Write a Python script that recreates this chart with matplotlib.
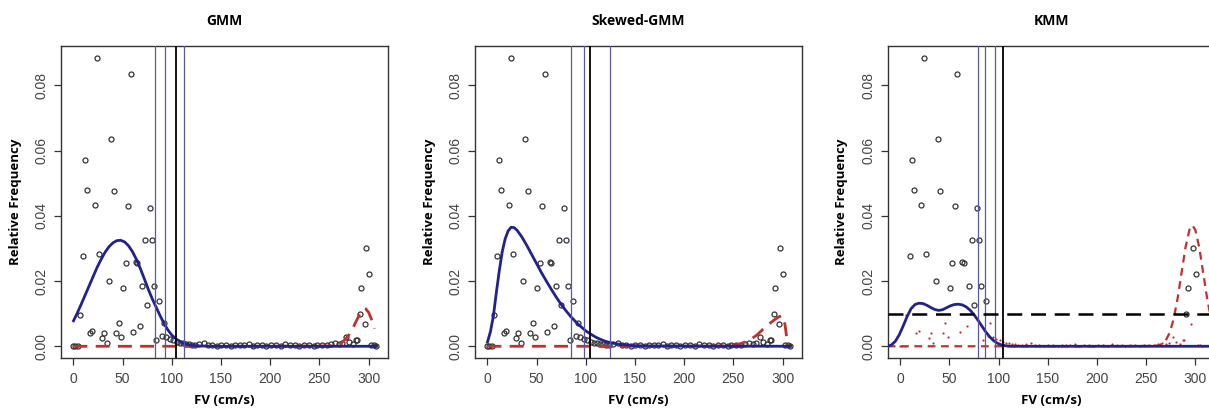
import matplotlib
matplotlib.use('Agg')
import matplotlib.pyplot as plt

# Empirical relative frequencies (shared by all three panels)
fv = [0, 2, 4.4, 6.4, 9.5, 11.9, 14.2, 16.3, 18.9, 21.4, 24.1, 26.4, 28.8, 31.2, 33.6,
      35.9, 38.6, 40.7, 43.4, 45.8, 48.5, 50.5, 52.9, 55.3, 58, 60.3, 63.1, 64.4, 68.1,
      69.8, 72.5, 74.9, 77.6, 79.7, 82, 84, 86.8, 89.5, 91.5, 94, 97.6, 101,
      105, 108, 111, 114, 117, 120, 124, 128, 133, 137, 141, 146, 150, 155, 160, 164,
      169, 173, 178, 182, 187, 192, 196, 201, 206, 211, 215, 220, 225, 229, 234, 239,
      244, 248, 253, 258, 262, 266, 270, 273, 277.4, 280, 284, 287, 288.5, 291, 292.6,
      296, 297.8, 300.4, 302.5, 305, 307]
rel_freq = [0.0, 0.0001, 0.0002, 0.0095, 0.0276, 0.0570, 0.0479, 0.0042, 0.0046, 0.0432,
            0.0885, 0.0283, 0.0026, 0.0041, 0.0011, 0.0199, 0.0635, 0.0476, 0.0040, 0.0071,
            0.0027, 0.0180, 0.0254, 0.0429, 0.0836, 0.0043, 0.0257, 0.0255, 0.0063, 0.0185,
            0.0327, 0.0127, 0.0424, 0.0326, 0.0184, 0.0019, 0.0138, 0.0032, 0.0070, 0.0027,
            0.0021, 0.0018,
            0.0012, 0.0009, 0.0011, 0.0006, 0.0008, 0.0005, 0.0004, 0.0006, 0.0009, 0.0003,
            0.0005, 0.0002, 0.0004, 0.0003, 0.0002, 0.0005, 0.0003, 0.0004, 0.0006, 0.0002,
            0.0004, 0.0003, 0.0002, 0.0003, 0.0004, 0.0002, 0.0006, 0.0003, 0.0005, 0.0002,
            0.0003, 0.0004, 0.0002, 0.0003, 0.0005, 0.0004, 0.0007, 0.0009, 0.0008, 0.0011,
            0.0029, 0.0012, 0.0006, 0.0018, 0.0018, 0.0100, 0.0180, 0.0068, 0.0300, 0.0223,
            0.0005, 0.0003, 0.0001]

# GMM fitted densities
gmm_bx = [0, 4, 8, 12, 16, 20, 24, 28, 32, 36, 40, 44, 48, 52, 56, 60, 64, 68, 72, 76,
          80, 84, 88, 92, 96, 100, 105, 110, 115, 120, 128, 140, 308]
gmm_by = [0.0078, 0.0103, 0.0130, 0.0158, 0.0186, 0.0214, 0.0242, 0.0266, 0.0288, 0.0305,
          0.0317, 0.0324, 0.0325, 0.0320, 0.0308, 0.0290, 0.0266, 0.0238, 0.0207, 0.0175,
          0.0146, 0.0120, 0.0094, 0.0070, 0.0050, 0.0034, 0.0021, 0.0012, 0.0006, 0.0003,
          0.0001, 0.0, 0.0]
gmm_rx = [0, 100, 200, 260, 265, 270, 275, 280, 285, 290, 293, 295, 297, 300, 303, 306]
gmm_ry = [0.0, 0.0, 0.0, 0.0001, 0.0002, 0.0006, 0.0017, 0.0035, 0.0062, 0.0093, 0.0109,
          0.0116, 0.0115, 0.0104, 0.0082, 0.0054]
gmm_vblue = [83, 93.2, 112.5]

# Skewed-GMM fitted densities
sk_bx = [0, 3, 6, 9, 12, 15, 18, 21, 24, 27, 30, 35, 40, 45, 50, 55, 60, 65, 70, 75, 80,
         85, 90, 95, 100, 105, 110, 115, 120, 125, 130, 140, 150, 160, 308]
sk_by = [0.0013, 0.0045, 0.0093, 0.0165, 0.0232, 0.0290, 0.0330, 0.0354, 0.0365, 0.0364,
         0.0356, 0.0335, 0.0309, 0.0281, 0.0253, 0.0225, 0.0199, 0.0174, 0.0150, 0.0128,
         0.0108, 0.0090, 0.0074, 0.0060, 0.0047, 0.0037, 0.0028, 0.0021, 0.0015, 0.0011,
         0.0008, 0.0004, 0.0002, 0.0001, 0.0]
sk_rx = [0, 100, 200, 240, 250, 256, 262, 268, 274, 280, 286, 292, 296, 299, 301, 302.5,
         304, 305.5]
sk_ry = [0.0, 0.0, 0.0, 0.0001, 0.0003, 0.0007, 0.0013, 0.0022, 0.0035, 0.0052, 0.0068,
         0.0082, 0.0090, 0.0094, 0.0088, 0.0064, 0.0030, 0.0003]
sk_vblue = [84.4, 97.9, 125]

# KMM fitted densities
km_bx = [-12.7, -9, -5, -1, 3, 7, 11, 15, 19, 23, 27, 31, 35, 39, 43, 47, 51, 55, 59, 63,
         67, 71, 75, 79, 83, 87, 91, 95, 99, 103, 108, 115, 322]
km_by = [0.0, 0.0004, 0.0015, 0.0035, 0.0062, 0.0091, 0.0115, 0.0128, 0.0132, 0.0131,
         0.0126, 0.0119, 0.0113, 0.0110, 0.0112, 0.0118, 0.0124, 0.0128, 0.0129, 0.0127,
         0.0121, 0.0111, 0.0097, 0.0080, 0.0062, 0.0044, 0.0029, 0.0017, 0.0009, 0.0004,
         0.0001, 0.0, 0.0]
km_rx = [-12.7, 100, 200, 258, 262, 266, 270, 274, 278, 282, 286, 290, 294, 297, 300, 304,
         308, 312, 316, 320]
km_ry = [0.0, 0.0, 0.0, 0.0001, 0.0002, 0.0007, 0.0018, 0.0042, 0.0084, 0.0147, 0.0225,
         0.0303, 0.0357, 0.0371, 0.0357, 0.0303, 0.0225, 0.0147, 0.0084, 0.0042]
km_vblue = [79, 85.8, 95.9]
km_threshold = 0.0098
km_hline = 0.01

threshold_fv = 104

panels = [
    ('GMM', gmm_bx, gmm_by, gmm_rx, gmm_ry, gmm_vblue),
    ('Skewed-GMM', sk_bx, sk_by, sk_rx, sk_ry, sk_vblue),
    ('KMM', km_bx, km_by, km_rx, km_ry, km_vblue),
]

NAVY = '#22228c'
VBLUE = '#5858a8'
RED = '#c3302c'
LABEL_FONT = ['Open Sans', 'DejaVu Sans']
TICK_FONT = ['Liberation Sans', 'DejaVu Sans']

fig = plt.figure(figsize=(12.09, 4.08), dpi=100)
fig.patch.set_facecolor('white')

lefts = [61 / 1209, 475 / 1209, 887.7 / 1209]
width = 327 / 1209
bottom = 1 - 358 / 408
height = 312 / 408

for i, (title, bx, by, rx, ry, vblue) in enumerate(panels):
    ax = fig.add_axes([lefts[i], bottom, width, height])
    ax.set_xlim(-12.7, 319.7)
    ax.set_ylim(-0.0036, 0.0921)

    if title == 'KMM':
        hi_x = [x for x, y in zip(fv, rel_freq) if y >= km_threshold]
        hi_y = [y for y in rel_freq if y >= km_threshold]
        lo_x = [x for x, y in zip(fv, rel_freq) if y < km_threshold]
        lo_y = [y for y in rel_freq if y < km_threshold]
        ax.plot(hi_x, hi_y, 'o', mfc='none', mec='#333333', ms=3.6, mew=0.9, zorder=2)
        ax.plot(lo_x, lo_y, 'o', color=RED, ms=1.6, mew=0, zorder=2)
        ax.axhline(km_hline, color='black', lw=1.8, dashes=(6, 3.5), zorder=4)
        ax.plot(rx, ry, color=RED, lw=1.6, dashes=(3.5, 2.5), zorder=3)
    else:
        ax.plot(fv, rel_freq, 'o', mfc='none', mec='#333333', ms=3.6, mew=0.9, zorder=2)
        ax.plot(rx, ry, color=RED, lw=2.0, dashes=(5, 3), zorder=3)

    ax.plot(bx, by, color=NAVY, lw=2.0, zorder=3)

    for v in vblue:
        ax.axvline(v, color=VBLUE, lw=0.9, zorder=3)
    ax.axvline(threshold_fv, color='black', lw=1.3, zorder=3)

    ax.set_xticks([0, 50, 100, 150, 200, 250, 300])
    ax.set_yticks([0.0, 0.02, 0.04, 0.06, 0.08])
    ax.set_yticklabels(['0.00', '0.02', '0.04', '0.06', '0.08'], rotation=90, va='center')
    ax.tick_params(axis='both', direction='out', length=5, width=0.9, colors='#333333',
                   labelsize=10, labelcolor='#444444')
    ax.tick_params(axis='x', pad=5)
    ax.tick_params(axis='y', pad=4)
    for lbl in ax.get_xticklabels() + ax.get_yticklabels():
        lbl.set_family(TICK_FONT)
    for sp in ax.spines.values():
        sp.set_color('#333333')
        sp.set_linewidth(1.0)

    ax.set_title(title, fontsize=10, fontweight='bold', family=LABEL_FONT, y=1.04)
    ax.set_ylabel('Relative Frequency', fontsize=9.5, fontweight='bold', family=LABEL_FONT)
    ax.yaxis.set_label_coords(-0.12, 0.5)
    ax.set_xlabel('FV (cm/s)', fontsize=9.5, fontweight='bold', family=LABEL_FONT)
    ax.xaxis.set_label_coords(0.5, -0.115)

fig.savefig('out.png', dpi=100, facecolor='white')
